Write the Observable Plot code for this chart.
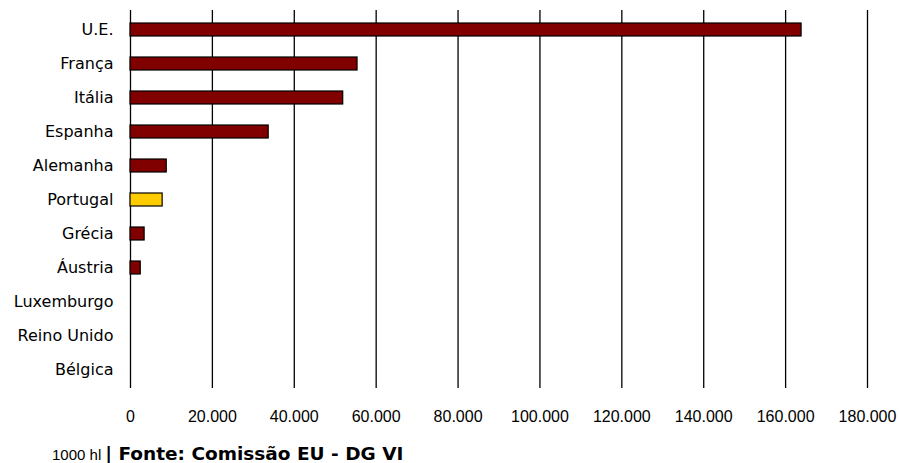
<!DOCTYPE html>
<html>
<head>
<meta charset="utf-8">
<script src="https://cdn.jsdelivr.net/npm/d3@7"></script>
<script src="https://cdn.jsdelivr.net/npm/@observablehq/plot@0.6"></script>
<style>
  html, body { margin: 0; padding: 0; background: #fff; }
  #caption { height: 18px; line-height: 18px; padding-left: 52px; white-space: nowrap; color: #000; }
  #caption .unit { font-family: "Liberation Sans Narrow", "Liberation Sans", Arial, sans-serif; font-size: 15px; }
  #caption .src { font-family: "DejaVu Sans", sans-serif; font-weight: bold; font-size: 18.5px; }
</style>
</head>
<body>
<div id="chart"></div>
<div id="caption"><span class="unit">1000 hl</span> <span class="src">| Fonte: Comissão EU - DG VI</span></div>
<script>
const categories = ["U.E.", "França", "Itália", "Espanha", "Alemanha", "Portugal", "Grécia", "Áustria", "Luxemburgo", "Reino Unido", "Bélgica"];
const values = [163900, 55450, 51950, 33750, 8850, 7850, 3450, 2500, 0, 0, 0];
const highlight = "Portugal";
const xTicks = [0, 20000, 40000, 60000, 80000, 100000, 120000, 140000, 160000, 180000];

const data = categories.map((c, i) => ({ country: c, value: values[i] }));
const ptFormat = d3.formatLocale({ decimal: ",", thousands: ".", grouping: [3], currency: ["", "€"] }).format(",d");

const chart = Plot.plot({
  width: 899,
  height: 445,
  marginTop: 10,
  marginBottom: 57,
  marginLeft: 130,
  marginRight: 32,
  style: { fontFamily: "DejaVu Sans, sans-serif", fontSize: "16px", color: "#000", background: "#fff" },
  x: { domain: [0, 180000], ticks: xTicks, tickFormat: ptFormat, label: null },
  y: { domain: categories, paddingInner: 0.62, paddingOuter: 0.31, label: null },
  marks: [
    Plot.gridX(xTicks, { stroke: "#000", strokeOpacity: 1, strokeWidth: 1.3 }),
    Plot.barX(data.filter(d => d.value > 0), {
      x: "value",
      y: "country",
      fill: d => d.country === highlight ? "#FFCC00" : "#800000",
      stroke: "#000",
      strokeWidth: 1.2
    }),
    Plot.axisX(xTicks, { tickSize: 0, tickPadding: 22, tickFormat: ptFormat, fontFamily: "Liberation Sans, Arial, sans-serif", fontSize: 16, label: null }),
    Plot.axisY({ tickSize: 0, tickPadding: 17, fontSize: 16, label: null })
  ]
});
document.getElementById("chart").appendChild(chart);
</script>
</body>
</html>
